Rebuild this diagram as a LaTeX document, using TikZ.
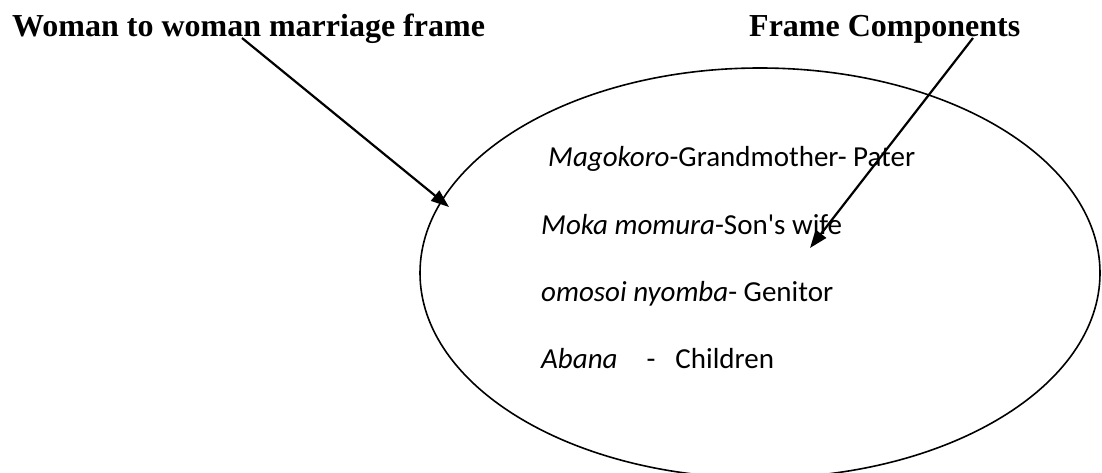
\documentclass[tikz,border=0pt]{standalone}
\usepackage{fontspec}
\setmainfont{Liberation Serif}
\newfontfamily\bodyfont{Carlito}
\usetikzlibrary{shapes.geometric,arrows.meta}
\begin{document}
\begin{tikzpicture}[x=1pt,y=-1pt,
  heading/.style={anchor=base west,inner sep=0pt,font=\fontsize{32}{38}\selectfont\bfseries},
  item/.style={anchor=base west,inner sep=0pt,font=\bodyfont\fontsize{29}{35}\selectfont},
  pointer/.style={line width=2.2pt,-{Triangle[length=18pt,width=13pt]}},
  frame/.style={draw,ellipse,line width=1.6pt,minimum width=680pt,minimum height=410pt,inner sep=0pt}]
\useasboundingbox (0,0) rectangle (1102,473);

% headings
\node[heading] (t1) at (12,37) {Woman to woman marriage frame};
\node[heading] (t2) at (749,37) {Frame Components};

% the frame ellipse
\node[frame] (fr) at (760,273) {};

% frame components
\node[item] (c1) at (548,167) {\textit{Magokoro}-Grandmother- Pater};
\node[item] (c2) at (541,234) {\textit{Moka momura}-Son's wife};
\node[item] (c3) at (541,301) {\textit{omosoi nyomba}- Genitor};
\node[item] (c4) at (541,368) {\textit{Abana}\hspace{29pt}-\hspace{20pt}Children};

% pointers
\coordinate (s1) at (242,38);
\coordinate (e1) at (449,207);
\coordinate (s2) at (973,38);
\coordinate (e2) at (810,248);
\draw[pointer] (s1) -- (e1);
\draw[pointer] (s2) -- (e2);
\end{tikzpicture}
\end{document}
